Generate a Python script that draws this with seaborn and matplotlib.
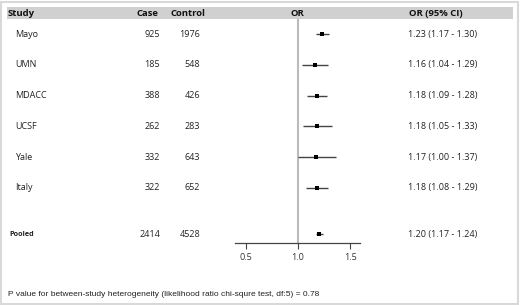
import seaborn as sns
import matplotlib.pyplot as plt
import matplotlib.transforms as mtransforms
from matplotlib.patches import Rectangle
import pandas as pd

#study level data
studies = ["Mayo", "UMN", "MDACC", "UCSF", "Yale", "Italy"]
cases = [925, 185, 388, 262, 332, 322]
controls = [1976, 548, 426, 283, 643, 652]
odds = [1.23, 1.16, 1.18, 1.18, 1.17, 1.18]
lower = [1.17, 1.04, 1.09, 1.05, 1.00, 1.08]
upper = [1.30, 1.29, 1.28, 1.33, 1.37, 1.29]

#pooled estimate
pooled_case, pooled_control = 2414, 4528
pooled_or, pooled_lo, pooled_hi = 1.20, 1.17, 1.24

xticks = [0.5, 1.0, 1.5]
footer = "P value for between-study heterogeneity (likelihood ratio chi-squre test, df:5) = 0.78"

df = pd.DataFrame({"study": studies, "case": cases, "control": controls,
                   "OR": odds, "lo": lower, "hi": upper})
df["pos"] = range(len(df))
pooled_pos = len(df) + 0.5

sns.set_style("white")
plt.rcParams["font.family"] = ["Open Sans", "DejaVu Sans"]

W, H = 520, 305
fig = plt.figure(figsize=(W / 100, H / 100), dpi=100)
fig.patch.set_facecolor("white")

#light frame and grey header band
fig.patches.append(Rectangle((1 / W, 1 / H), 1 - 3 / W, 1 - 3 / H, transform=fig.transFigure,
                             fill=False, edgecolor="#d9d9d9", linewidth=1.5))
fig.patches.append(Rectangle((7 / W, 1 - 19 / H), 506 / W, 12 / H, transform=fig.transFigure,
                             facecolor="#d0d0d0", edgecolor="none"))

ax = fig.add_axes([235 / W, 1 - 243 / H, 125 / W, 224 / H])
ax.set_facecolor("none")

#reference line at OR = 1
ax.axvline(1.0, color="#bbbbbb", linewidth=1.5, zorder=1)

#confidence intervals
ax.hlines(df["pos"], df["lo"], df["hi"], color="#444444", linewidth=1.0, zorder=2)
ax.hlines(pooled_pos, pooled_lo, pooled_hi, color="#444444", linewidth=1.0, zorder=2)

sns.scatterplot(data=df, x="OR", y="pos", marker="s", color="black", s=9,
                linewidth=0, ax=ax, zorder=3)
ax.scatter([pooled_or], [pooled_pos], marker="s", color="black", s=10, linewidth=0, zorder=3)

ax.set_xlim(0.394, 1.596)
ax.set_ylim(6.79, -0.49)
ax.set_xticks(xticks)
ax.set_xticklabels([f"{t:.1f}" for t in xticks], fontsize=6.5, color="#333333")
ax.set_yticks([])
ax.set_xlabel("")
ax.set_ylabel("")
for side in ["top", "right", "left"]:
    ax.spines[side].set_visible(False)
ax.spines["bottom"].set_color("#444444")
ax.spines["bottom"].set_linewidth(0.9)
ax.tick_params(axis="x", direction="out", length=4, width=0.8, color="#444444", pad=3, bottom=True)

#table columns: x in pixels of the figure, y in row units
trans = mtransforms.blended_transform_factory(
    mtransforms.Affine2D().scale(1 / W, 1) + fig.transFigure, ax.transData)
fs = 6.5
tc = "#222222"
for _, r in df.iterrows():
    y = r["pos"]
    ax.text(15, y, r["study"], transform=trans, ha="left", va="center", fontsize=fs, color=tc)
    ax.text(160, y, f"{r['case']}", transform=trans, ha="right", va="center", fontsize=fs, color=tc)
    ax.text(200, y, f"{r['control']}", transform=trans, ha="right", va="center", fontsize=fs, color=tc)
    ax.text(408, y, f"{r['OR']:.2f} ({r['lo']:.2f} - {r['hi']:.2f})", transform=trans,
            ha="left", va="center", fontsize=fs, color=tc)

ax.text(9, pooled_pos, "Pooled", transform=trans, ha="left", va="center", fontsize=5.2,
        fontweight="bold", color=tc)
ax.text(160, pooled_pos, f"{pooled_case}", transform=trans, ha="right", va="center", fontsize=fs, color=tc)
ax.text(200, pooled_pos, f"{pooled_control}", transform=trans, ha="right", va="center", fontsize=fs, color=tc)
ax.text(408, pooled_pos, f"{pooled_or:.2f} ({pooled_lo:.2f} - {pooled_hi:.2f})", transform=trans,
        ha="left", va="center", fontsize=fs, color=tc)

#header row
hy = 1 - 13 / H
hdr = dict(transform=fig.transFigure, va="center", fontsize=6.8, fontweight="bold", color="#111111")
fig.text(8 / W, hy, "Study", ha="left", **hdr)
fig.text(158 / W, hy, "Case", ha="right", **hdr)
fig.text(205 / W, hy, "Control", ha="right", **hdr)
fig.text(297 / W, hy, "OR", ha="center", **hdr)
fig.text(409 / W, hy, "OR (95% CI)", ha="left", **hdr)

fig.text(8 / W, 1 - 294 / H, footer, ha="left", va="center", fontsize=6.0,
         family=["Liberation Sans", "DejaVu Sans"], color="#222222")

fig.savefig("out.png", dpi=100)
